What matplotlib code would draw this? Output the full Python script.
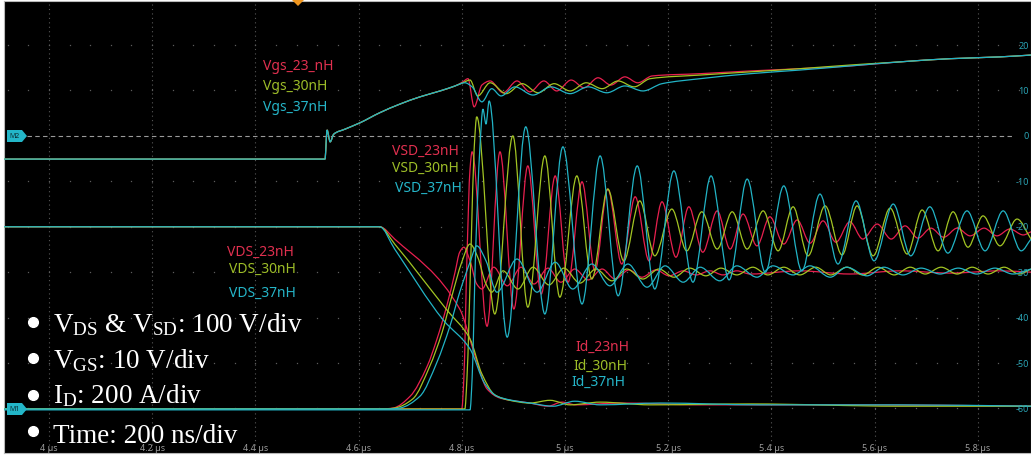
import numpy as np
import matplotlib
matplotlib.use("Agg")
from matplotlib import pyplot as plt
from matplotlib.path import Path
from matplotlib.patches import PathPatch, Polygon
from matplotlib.lines import Line2D

plt.rcParams['font.family'] = ['Noto Sans', 'DejaVu Sans']
plt.rcParams['mathtext.fontset'] = 'custom'
plt.rcParams['mathtext.rm'] = 'Liberation Serif'
plt.rcParams['mathtext.it'] = 'Liberation Serif:italic'

# time in ns, amplitude in graticule units (10 per division)
TIME_TICKS = [4000, 4200, 4400, 4600, 4800, 5000, 5200, 5400, 5600, 5800]
TIME_LABELS = ['4 \u00b5s', '4.2 \u00b5s', '4.4 \u00b5s', '4.6 \u00b5s', '4.8 \u00b5s',
               '5 \u00b5s', '5.2 \u00b5s', '5.4 \u00b5s', '5.6 \u00b5s', '5.8 \u00b5s']
LEVEL_TICKS = [20, 10, 0, -10, -20, -30, -40, -50, -60]

# ---- Vgs (common rise, then one tail per inductance)
VGS_RISE_T = [3913, 4535, 4539, 4545, 4552, 4574, 4603, 4641, 4680, 4719, 4758, 4787]
VGS_RISE_V = [-5.1, -5.1, 1.3, -1.3, 0.4, 1.5, 2.9, 5.1, 7.0, 8.6, 9.9, 11.0]
VGS_23_T = [4802, 4812, 4824, 4839, 4855, 4880, 4907, 4932, 4959, 4984, 5012, 5037, 5064,
            5089, 5116, 5141, 5169, 5262, 5359, 5455, 5552, 5649, 5746, 5843, 5903]
VGS_23_V = [11.9, 12.6, 6.4, 11.2, 12.1, 9.5, 12.1, 9.7, 12.1, 9.9, 12.3, 10.6, 12.8,
            11.2, 13.0, 11.7, 13.2, 13.7, 14.3, 14.8, 15.4, 16.3, 17.0, 17.4, 17.8]
VGS_30_T = [4802, 4816, 4831, 4855, 4886, 4917, 4948, 4979, 5010, 5041, 5072, 5103, 5134,
            5165, 5262, 5359, 5455, 5552, 5649, 5746, 5843, 5903]
VGS_30_V = [11.7, 12.3, 8.8, 11.7, 9.3, 11.5, 9.5, 11.5, 9.9, 11.7, 10.4, 12.1, 10.8,
            12.6, 13.4, 14.1, 14.8, 15.6, 16.3, 17.0, 17.4, 17.8]
VGS_37_T = [4806, 4820, 4839, 4858, 4876, 4903, 4938, 4973, 5010, 5045, 5081, 5116, 5151,
            5188, 5262, 5359, 5455, 5552, 5649, 5746, 5843, 5903]
VGS_37_V = [11.7, 10.8, 7.5, 10.4, 8.8, 10.8, 9.0, 10.8, 9.3, 10.8, 9.5, 11.0, 9.9,
            11.5, 12.6, 13.7, 14.5, 15.4, 16.3, 17.0, 17.4, 17.8]

# ---- VDS
VDS_23_T = [3913, 4641, 4670, 4796, 4826, 4849, 4874, 4932, 4967, 4994, 5021, 5107, 5262, 5552, 5903]
VDS_23_V = [-20.0, -20.0, -22.7, -38.1, -48.5, -55.7, -57.7, -58.8, -59.5, -58.6, -59.2,
            -58.8, -59.2, -59.2, -59.5]
VDS_30_T = [3913, 4641, 4670, 4771, 4816, 4839, 4864, 4893, 4932, 4971, 5010, 5068, 5165,
            5359, 5649, 5903]
VDS_30_V = [-20.0, -20.0, -23.8, -38.3, -44.7, -52.4, -57.0, -58.2, -58.8, -58.2, -59.2,
            -58.6, -59.2, -59.0, -59.5, -59.5]
VDS_37_T = [3913, 4641, 4670, 4764, 4816, 4845, 4868, 4897, 4932, 4977, 5019, 5068, 5184,
            5378, 5649, 5903]
VDS_37_V = [-20.0, -20.0, -24.9, -40.5, -46.9, -54.6, -57.3, -58.2, -58.8, -59.5, -58.4,
            -59.2, -58.8, -59.2, -59.2, -59.5]

# ---- VSD (turn-on of the opposite switch, then ringing)
VSD_23_T = [3913, 4800, 4804, 4810, 4816, 4820, 4849, 4874, 4901, 4928, 4954, 4981, 5006,
            5033, 5058, 5083, 5110, 5136, 5163, 5188, 5215, 5240, 5267, 5295, 5320, 5345,
            5372, 5397, 5424, 5450, 5475, 5500, 5525, 5552, 5577, 5605, 5632, 5659, 5684,
            5709, 5734, 5760, 5785, 5812, 5837, 5862, 5888, 5903]
VSD_23_V = [-60.1, -60.1, -53.5, -27.1, -7.3, -3.5, -41.9, -3.5, -38.1, -6.6, -34.8, -8.8,
            -32.2, -10.1, -29.7, -11.7, -28.2, -13.4, -27.5, -14.5, -26.7, -15.6, -25.6,
            -16.5, -24.9, -17.2, -24.2, -17.8, -23.8, -18.5, -23.6, -18.7, -23.4, -18.9,
            -22.7, -19.4, -22.7, -19.8, -22.5, -20.3, -22.3, -20.3, -22.0, -20.3, -22.0,
            -20.5, -21.8, -21.1]
VSD_30_T = [3913, 4806, 4810, 4818, 4824, 4829, 4864, 4899, 4928, 4961, 4990, 5023, 5052,
            5083, 5114, 5145, 5174, 5207, 5236, 5265, 5295, 5324, 5353, 5384, 5413, 5442,
            5471, 5504, 5537, 5566, 5597, 5630, 5663, 5692, 5723, 5752, 5781, 5810, 5843,
            5876, 5903]
VSD_30_V = [-60.1, -60.1, -53.5, -24.9, -2.9, 4.2, -39.2, 0.0, -37.7, -4.4, -35.5, -8.8,
            -31.5, -11.7, -27.5, -14.3, -26.4, -16.1, -25.3, -16.7, -24.9, -16.7, -24.9,
            -16.5, -25.3, -15.6, -26.4, -15.4, -26.2, -15.4, -26.4, -15.9, -26.0, -16.3,
            -25.3, -16.7, -24.5, -17.6, -24.2, -18.3, -22.7]
VSD_37_T = [3913, 4816, 4820, 4827, 4835, 4841, 4847, 4853, 4888, 4924, 4961, 4996, 5033,
            5068, 5103, 5140, 5174, 5211, 5248, 5283, 5318, 5353, 5388, 5424, 5459, 5494,
            5529, 5564, 5599, 5636, 5670, 5707, 5742, 5779, 5814, 5849, 5884, 5903]
VSD_37_V = [-60.3, -60.3, -53.5, -24.9, -2.9, 5.9, 2.6, 7.7, -44.3, 2.0, -39.2, -2.4,
            -37.0, -4.4, -35.2, -6.6, -33.7, -7.7, -32.2, -8.8, -31.7, -9.5, -30.0, -11.0,
            -29.7, -12.8, -28.2, -14.3, -27.5, -15.0, -26.4, -15.6, -25.8, -16.5, -25.3,
            -16.5, -25.3, -22.7]

# ---- Id
ID_23_T = [3913, 4647, 4667, 4700, 4733, 4752, 4771, 4787, 4796, 4804, 4816, 4829, 4839,
           4862, 4888, 4915, 4940, 4967, 4992, 5019, 5045, 5072, 5097, 5124, 5149, 5176,
           5202, 5229, 5254, 5281, 5306, 5333, 5359, 5455, 5552, 5649, 5746, 5843, 5903]
ID_23_V = [-60.1, -60.1, -59.9, -57.3, -50.7, -44.7, -37.4, -30.0, -25.6, -24.5, -27.5,
           -32.6, -33.7, -28.9, -33.0, -28.9, -32.6, -29.1, -32.2, -29.3, -31.7, -29.3,
           -31.5, -29.5, -31.1, -29.5, -30.8, -29.7, -30.6, -29.7, -30.6, -29.7, -30.4,
           -29.7, -30.4, -29.7, -30.2, -29.7, -30.0]
ID_30_T = [3913, 4651, 4670, 4705, 4738, 4762, 4781, 4800, 4816, 4831, 4847, 4858, 4880,
           4909, 4938, 4969, 4998, 5029, 5060, 5091, 5120, 5151, 5182, 5211, 5242, 5273,
           5302, 5333, 5364, 5393, 5424, 5455, 5486, 5515, 5546, 5577, 5607, 5638, 5669,
           5698, 5729, 5760, 5789, 5820, 5851, 5880, 5903]
ID_30_V = [-60.1, -60.1, -59.9, -57.9, -50.7, -43.2, -35.2, -27.8, -23.8, -26.7, -32.6,
           -34.4, -29.7, -33.7, -28.9, -32.8, -29.1, -32.4, -29.3, -31.9, -29.3, -31.5,
           -29.3, -31.1, -29.1, -30.8, -29.1, -30.6, -28.9, -30.6, -28.9, -30.6, -28.9,
           -30.6, -28.9, -30.6, -28.9, -30.6, -28.9, -30.4, -28.9, -30.4, -28.9, -30.4,
           -28.9, -30.4, -29.3]
ID_37_T = [3913, 4661, 4680, 4719, 4752, 4777, 4796, 4816, 4829, 4847, 4868, 4907, 4946,
           4981, 5015, 5052, 5087, 5122, 5159, 5194, 5229, 5262, 5300, 5333, 5372, 5403,
           5442, 5475, 5514, 5546, 5585, 5618, 5655, 5690, 5727, 5762, 5798, 5833, 5868, 5903]
ID_37_V = [-60.1, -60.1, -59.9, -57.3, -49.8, -41.9, -34.4, -27.8, -24.2, -27.5, -34.4,
           -27.1, -34.4, -27.8, -33.7, -28.2, -33.0, -28.2, -33.3, -28.6, -32.2, -28.9,
           -31.9, -28.6, -31.1, -28.6, -30.6, -28.6, -31.1, -28.9, -30.8, -28.9, -30.6,
           -29.1, -30.4, -29.1, -30.4, -29.1, -30.4, -29.3]

RED, GREEN, TEAL = '#e8204f', '#a2c423', '#22b4c6'
RED_TXT, GREEN_TXT, TEAL_TXT = '#e0304f', '#9dbd28', '#25b5c8'

W, H = 1031, 456


def fpx(x, y):
    # figure pixel (from top-left) -> figure fraction
    return (x / W, 1 - y / H)


def smooth_path(t, v):
    # monotone cubic (pchip-like) drawn as bezier segments
    t = np.asarray(t, float)
    v = np.asarray(v, float)
    h = np.diff(t)
    d = np.diff(v) / h
    m = np.zeros_like(v)
    m[0], m[-1] = d[0], d[-1]
    for i in range(1, len(v) - 1):
        if d[i - 1] * d[i] > 0:
            w1 = 2 * h[i] + h[i - 1]
            w2 = h[i] + 2 * h[i - 1]
            m[i] = (w1 + w2) / (w1 / d[i - 1] + w2 / d[i])
    verts = [(t[0], v[0])]
    codes = [Path.MOVETO]
    for i in range(len(h)):
        verts += [(t[i] + h[i] / 3, v[i] + m[i] * h[i] / 3),
                  (t[i + 1] - h[i] / 3, v[i + 1] - m[i + 1] * h[i] / 3),
                  (t[i + 1], v[i + 1])]
        codes += [Path.CURVE4] * 3
    return Path(verts, codes)


fig = plt.figure(figsize=(W / 100, H / 100), dpi=100)
fig.patch.set_facecolor('white')
ax = fig.add_axes([4 / W, 2 / H, 1027 / W, 452 / H])
ax.set_facecolor('black')
ax.set_xlim(3913, 5903)
ax.set_ylim(-69.8, 29.7)
ax.set_xticks([])
ax.set_yticks([])
for s in ax.spines.values():
    s.set_color('#b8b8b8')
    s.set_linewidth(0.8)

# graticule
ax.vlines(TIME_TICKS, -70, 30, colors='#585858', linestyles=(0, (1, 3)), lw=0.8, zorder=1)
minor_x = np.arange(3920, 5903, 40)
for lev in LEVEL_TICKS:
    if lev == 0:
        continue
    ax.plot(minor_x, [lev] * len(minor_x), ls='none', marker='s', ms=0.9,
            mfc='#5c5c5c', mec='none', zorder=1)
ax.axhline(0, xmin=23 / 1027, xmax=1008 / 1027, color='#9a9a9a', lw=0.8,
           ls=(0, (4, 3)), zorder=1)

# traces
traces = [
    (VDS_23_T, VDS_23_V, RED), (VDS_30_T, VDS_30_V, GREEN), (VDS_37_T, VDS_37_V, TEAL),
    (ID_23_T, ID_23_V, RED), (ID_30_T, ID_30_V, GREEN), (ID_37_T, ID_37_V, TEAL),
    (VSD_23_T, VSD_23_V, RED), (VSD_30_T, VSD_30_V, GREEN), (VSD_37_T, VSD_37_V, TEAL),
    (VGS_RISE_T + VGS_23_T, VGS_RISE_V + VGS_23_V, RED),
    (VGS_RISE_T + VGS_30_T, VGS_RISE_V + VGS_30_V, GREEN),
    (VGS_RISE_T + VGS_37_T, VGS_RISE_V + VGS_37_V, TEAL),
]
for i, (t, v, c) in enumerate(traces):
    ax.add_patch(PathPatch(smooth_path(t, v), fill=False, ec=c, lw=0.9,
                           zorder=2 + i % 3))

# right-hand level labels and bottom time labels
for lev in LEVEL_TICKS:
    ax.text(1025 / 1027, lev, str(lev), transform=ax.get_yaxis_transform(),
            ha='right', va='center', fontsize=6.5, color='#2aa3b4', zorder=6)
for tt, lab in zip(TIME_TICKS, TIME_LABELS):
    ax.text(tt, 5 / 452, lab, transform=ax.get_xaxis_transform(), ha='center',
            va='center', fontsize=6.5, color='#9c9c9c', zorder=6)

# trace labels
labels = [
    ('Vgs_23_nH', 263, 67, RED_TXT), ('Vgs_30nH', 263, 87, GREEN_TXT), ('Vgs_37nH', 263, 108, TEAL_TXT),
    ('VSD_23nH', 392, 151, RED_TXT), ('VSD_30nH', 392, 168, GREEN_TXT), ('VSD_37nH', 395, 188, TEAL_TXT),
    ('VDS_23nH', 227, 252, RED_TXT), ('VDS_30nH', 229, 269, GREEN_TXT), ('VDS_37nH', 229, 293, TEAL_TXT),
    ('Id_23nH', 575, 347, RED_TXT), ('Id_30nH', 573, 366, GREEN_TXT), ('Id_37nH', 571, 382, TEAL_TXT),
]
for s, x, y, c in labels:
    fig.text(*fpx(x, y), s, ha='left', va='center', fontsize=10, color=c, zorder=8)

# markers: M2 / M1 reference tags and trigger arrow
for name, yc in [('M2', 137), ('M1', 410)]:
    pts = [fpx(7, yc - 6), fpx(22, yc - 6), fpx(27, yc), fpx(22, yc + 6), fpx(7, yc + 6)]
    fig.add_artist(Polygon(pts, closed=True, fc='#23b6c8', ec='none',
                           transform=fig.transFigure, zorder=9))
    fig.text(*fpx(15, yc), name, ha='center', va='center', fontsize=5,
             color='#0b2a30', zorder=10)
fig.add_artist(Polygon([fpx(291, 0), fpx(305, 0), fpx(298, 7)], closed=True,
                       fc='#f0961e', ec='none', transform=fig.transFigure, zorder=9))

# scale notes
notes = [
    (r'V$_{\mathrm{DS}}$ & V$_{\mathrm{SD}}$: 100 V/div', 332, 323),
    (r'V$_{\mathrm{GS}}$: 10 V/div', 368, 359),
    (r'I$_{\mathrm{D}}$: 200 A/div', 403, 396),
    ('Time: 200 ns/div', 443, 432),
]
for s, base, yb in notes:
    fig.add_artist(Line2D([33 / W], [1 - yb / H], marker='o', ms=7, color='white',
                          transform=fig.transFigure, zorder=10))
    fig.text(*fpx(53, base), s, ha='left', va='baseline', fontsize=19.5,
             family='Liberation Serif', color='white', zorder=10)

fig.savefig('out.png', dpi=100, facecolor='white')
